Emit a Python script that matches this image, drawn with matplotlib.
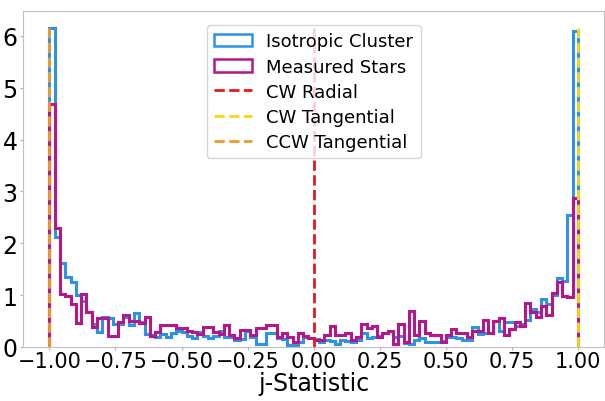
import numpy as np
import matplotlib
matplotlib.use("Agg")
import matplotlib.pyplot as plt

# bin edges of the j-statistic histogram (100 bins from -1 to 1)
bin_edges = np.linspace(-1, 1, 101)

# normalised counts, one per bin
isotropic = [6.15, 2.13, 1.62, 1.35, 1.26, 1.00, 0.88, 0.67, 0.45, 0.29,
             0.58, 0.55, 0.45, 0.45, 0.58, 0.42, 0.65, 0.48, 0.25, 0.24,
             0.20, 0.25, 0.20, 0.27, 0.30, 0.28, 0.22, 0.18, 0.28, 0.22,
             0.18, 0.22, 0.30, 0.20, 0.20, 0.13, 0.16, 0.30, 0.20, 0.06,
             0.06, 0.27, 0.27, 0.18, 0.16, 0.03, 0.03, 0.10, 0.20, 0.18,
             0.16, 0.10, 0.13, 0.12, 0.06, 0.13, 0.12, 0.10, 0.13, 0.27,
             0.18, 0.20, 0.21, 0.27, 0.30, 0.20, 0.21, 0.08, 0.06, 0.13,
             0.18, 0.10, 0.10, 0.09, 0.12, 0.20, 0.20, 0.18, 0.13, 0.13,
             0.39, 0.25, 0.27, 0.27, 0.51, 0.30, 0.48, 0.49, 0.40, 0.45,
             0.53, 0.74, 0.67, 0.93, 0.83, 1.00, 1.34, 1.28, 2.55, 6.10]

measured = [4.68, 2.29, 1.03, 0.99, 0.82, 0.46, 1.03, 0.68, 0.38, 0.55,
            0.55, 0.22, 0.22, 0.48, 0.61, 0.50, 0.50, 0.46, 0.58, 0.22,
            0.29, 0.42, 0.42, 0.42, 0.36, 0.36, 0.30, 0.28, 0.25, 0.39,
            0.39, 0.28, 0.25, 0.42, 0.23, 0.17, 0.32, 0.32, 0.23, 0.37,
            0.37, 0.42, 0.42, 0.20, 0.27, 0.20, 0.10, 0.27, 0.22, 0.18,
            0.13, 0.13, 0.23, 0.41, 0.23, 0.23, 0.27, 0.13, 0.20, 0.45,
            0.36, 0.41, 0.20, 0.27, 0.30, 0.06, 0.45, 0.10, 0.69, 0.23,
            0.50, 0.27, 0.23, 0.23, 0.10, 0.23, 0.34, 0.27, 0.27, 0.20,
            0.30, 0.30, 0.53, 0.27, 0.51, 0.56, 0.24, 0.34, 0.48, 0.41,
            0.85, 0.67, 0.58, 0.80, 0.61, 1.05, 1.26, 0.99, 0.96, 2.88]

# reference j values
ref_lines = {"CW Radial": 0.0, "CW Tangential": 1.0, "CCW Tangential": -1.0}
ref_colors = {"CW Radial": "#e31a1c", "CW Tangential": "#f7d716",
              "CCW Tangential": "#f09b2a"}

centers = 0.5 * (bin_edges[:-1] + bin_edges[1:])

fig = plt.figure(figsize=(6.05, 4.02), dpi=100)
ax = fig.add_axes([23 / 605, 1 - 348 / 402, 1 - 23 / 605 - 0.001, 336 / 402])

ax.hist(centers, bins=bin_edges, weights=isotropic, histtype="step",
        color="#2e93e6", lw=2.2, label="Isotropic Cluster")
ax.hist(centers, bins=bin_edges, weights=measured, histtype="step",
        color="#b5178a", lw=2.2, label="Measured Stars")

top = max(isotropic)
for name, xv in ref_lines.items():
    ax.vlines(xv, 0, top, colors=ref_colors[name], linestyles="--",
              lw=2, label=name)

ax.set_xlim(-1.1, 1.1)
ax.set_ylim(0, 6.48)
ax.set_xticks([-1.0, -0.75, -0.5, -0.25, 0.0, 0.25, 0.5, 0.75, 1.0])
ax.set_yticks(range(7))
ax.tick_params(labelsize=15, length=2, color="#b0b0b0", pad=1)
ax.tick_params(axis="y", labelsize=17, pad=2)
ax.set_xlabel("j-Statistic", fontsize=17, labelpad=0)
for sp in ax.spines.values():
    sp.set_color("#c0c0c0")

leg = ax.legend(loc="upper center", fontsize=13, handlelength=2.1,
                borderpad=0.4, labelspacing=0.4, handletextpad=0.8,
                bbox_to_anchor=(0.5, 0.985))
for h in leg.legend_handles[:2]:
    h.set_linewidth(1.8)

fig.savefig("out.png", dpi=100)
